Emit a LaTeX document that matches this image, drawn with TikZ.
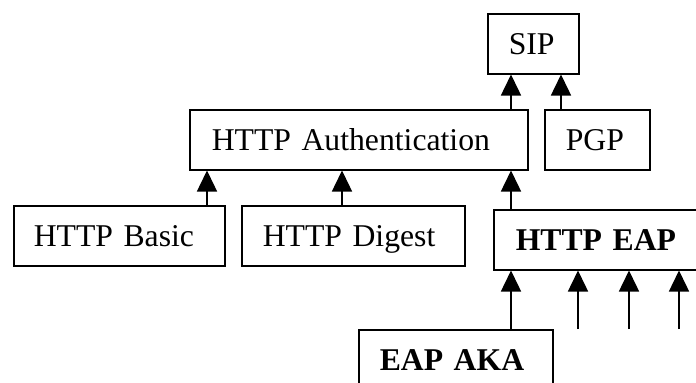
\documentclass[tikz,border=0pt]{standalone}
\usepackage{fontspec}
\setmainfont{Liberation Serif}
\usetikzlibrary{arrows.meta}
\begin{document}
\begin{tikzpicture}[x=0.5pt,y=-0.5pt,
  box/.style={draw, line width=0.75pt, anchor=north west, align=left,
    minimum height=30pt, inner ysep=0pt, inner xsep=10.5pt,
    text height=10.5pt, text depth=0pt,
    font=\fontsize{15.85}{19}\selectfont},
  bbox/.style={box, font=\fontsize{15.85}{19}\selectfont\bfseries},
  arr/.style={line width=0.75pt, -{Triangle[length=10.5pt,width=10pt]}}]
\useasboundingbox (0,0) rectangle (696,382);
\clip (0,0) rectangle (696,382);
\node[box, text width=24.5pt] (sip) at (487,13) {SIP};
\node[box, text width=31.5pt] (pgp) at (544,109) {PGP};
\node[box, text width=147pt, inner xsep=11pt] (auth) at (189,109) {HTTP Authentication};
\node[box, text width=85.5pt, inner xsep=10pt] (basic) at (13,205) {HTTP Basic};
\node[box, text width=90.5pt] (digest) at (241,205) {HTTP Digest};
\node[bbox, text width=91.5pt, inner xsep=11pt] (eap) at (493,209) {HTTP EAP};
\node[bbox, text width=76pt] (aka) at (358,329) {EAP AKA};
\coordinate (x1) at (511,0);
\coordinate (x2) at (561,0);
\coordinate (x3) at (207,0);
\coordinate (x4) at (342,0);
\coordinate (f1) at (578,329);
\coordinate (f2) at (629,329);
\coordinate (f3) at (679,329);
\draw[arr] (auth.north -| x1) -- (sip.south -| x1);
\draw[arr] (pgp.north -| x2) -- (sip.south -| x2);
\draw[arr] (basic.north -| x3) -- (auth.south -| x3);
\draw[arr] (digest.north -| x4) -- (auth.south -| x4);
\draw[arr] (eap.north -| x1) -- (auth.south -| x1);
\draw[arr] (aka.north -| x1) -- (eap.south -| x1);
\draw[arr] (f1) -- (eap.south -| f1);
\draw[arr] (f2) -- (eap.south -| f2);
\draw[arr] (f3) -- (eap.south -| f3);
\end{tikzpicture}
\end{document}
